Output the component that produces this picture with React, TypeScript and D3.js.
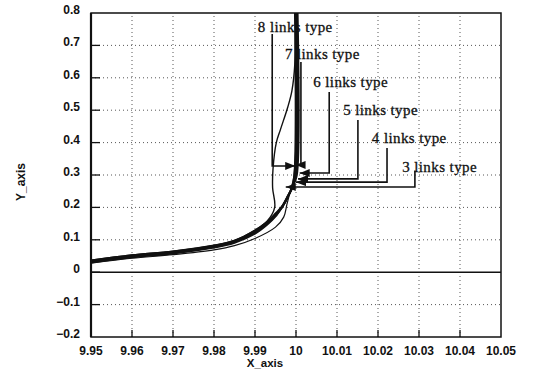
import * as d3 from 'd3'
import { useEffect, useRef } from 'react'

const xTicks = [9.95, 9.96, 9.97, 9.98, 9.99, 10, 10.01, 10.02, 10.03, 10.04, 10.05]
const yTicks = [-0.2, -0.1, 0, 0.1, 0.2, 0.3, 0.4, 0.5, 0.6, 0.7, 0.8]
const linkTypes = [8, 7, 6, 5, 4, 3]

// response curves
const curve3X = [9.95, 9.96, 9.97, 9.98, 9.985, 9.99, 9.995, 9.997, 9.9978, 9.9986, 9.9994, 10.0, 10.0002]
const curve3Y = [0.028, 0.043, 0.054, 0.069, 0.082, 0.104, 0.139, 0.17, 0.21, 0.25, 0.29, 0.4, 0.85]
const curve4X = [9.95, 9.96, 9.97, 9.98, 9.985, 9.99, 9.993, 9.995, 9.9965, 9.998, 9.999, 9.9996, 9.9997]
const curve4Y = [0.03, 0.046, 0.058, 0.076, 0.091, 0.119, 0.147, 0.172, 0.2, 0.235, 0.26, 0.3, 0.85]
const curve5X = [9.95, 9.96, 9.97, 9.98, 9.985, 9.99, 9.993, 9.995, 9.9966, 9.9981, 9.9991, 9.9998, 9.9999]
const curve5Y = [0.032, 0.048, 0.06, 0.078, 0.093, 0.122, 0.15, 0.175, 0.2, 0.236, 0.262, 0.3, 0.85]
const curve6X = [9.95, 9.96, 9.97, 9.98, 9.985, 9.99, 9.993, 9.995, 9.9967, 9.9982, 9.9992, 10.0, 10.0001]
const curve6Y = [0.034, 0.05, 0.062, 0.08, 0.095, 0.125, 0.153, 0.178, 0.203, 0.238, 0.265, 0.3, 0.85]
const curve7X = [9.95, 9.96, 9.97, 9.98, 9.985, 9.99, 9.993, 9.995, 9.9968, 9.9983, 9.9993, 10.0002, 10.0003]
const curve7Y = [0.036, 0.052, 0.064, 0.082, 0.097, 0.128, 0.156, 0.181, 0.206, 0.24, 0.268, 0.3, 0.85]
const curve8X = [9.95, 9.96, 9.97, 9.98, 9.985, 9.99, 9.993, 9.9948, 9.9943, 9.9944, 9.9952, 9.9962, 9.998, 9.999, 9.9997, 9.9999]
const curve8Y = [0.037, 0.053, 0.065, 0.083, 0.098, 0.13, 0.158, 0.2, 0.26, 0.32, 0.4, 0.44, 0.51, 0.56, 0.64, 0.85]

const curvesX = [curve8X, curve7X, curve6X, curve5X, curve4X, curve3X]
const curvesY = [curve8Y, curve7Y, curve6Y, curve5Y, curve4Y, curve3Y]
const curveWidth = [1.4, 2, 2, 2, 2, 1.2]

// label annotations (data coords)
const labelX = [9.9907, 9.9973, 10.0042, 10.0115, 10.0185, 10.0259]
const labelY = [0.741, 0.658, 0.572, 0.485, 0.399, 0.309]
const leaderX = [9.9942, 10.0012, 10.0081, 10.0151, 10.0222, 10.029]
const leaderTopY = [0.735, 0.649, 0.556, 0.47, 0.383, 0.314]
const leaderY = [0.328, 0.331, 0.306, 0.288, 0.278, 0.263]
const arrowX = [9.9998, 9.9999, 10.0009, 10.0005, 10.0, 9.9975]

export default function App() {
    const svgRef = useRef<SVGSVGElement>(null)
    const width = 534
    const height = 371

    useEffect(() => {
        if (!svgRef.current) return
        const svg = d3.select(svgRef.current)
        svg.selectAll('*').remove()

        const margin = { top: 13, right: 33, bottom: 34, left: 91 }
        const x = d3.scaleLinear().domain([9.95, 10.05]).range([margin.left, width - margin.right])
        const y = d3.scaleLinear().domain([-0.2, 0.8]).range([height - margin.bottom, margin.top])
        const [x0, x1] = x.range()
        const [y0, y1] = y.range()

        const defs = svg.append('defs')
        defs.append('clipPath')
            .attr('id', 'plot-clip')
            .append('rect')
            .attr('x', x0)
            .attr('y', y1)
            .attr('width', x1 - x0)
            .attr('height', y0 - y1)
        defs.append('marker')
            .attr('id', 'arrow')
            .attr('markerUnits', 'userSpaceOnUse')
            .attr('markerWidth', 10)
            .attr('markerHeight', 8)
            .attr('refX', 10)
            .attr('refY', 4)
            .attr('orient', 'auto')
            .append('path')
            .attr('d', 'M0,0 L10,4 L0,8 Z')
            .attr('fill', '#111')

        // dotted grid
        const grid = svg.append('g').attr('stroke', '#444').attr('stroke-width', 0.9).attr('stroke-dasharray', '1,3')
        xTicks.slice(1, -1).forEach((t) => {
            grid.append('line').attr('x1', x(t)).attr('x2', x(t)).attr('y1', y0).attr('y2', y1)
        })
        yTicks.slice(1, -1).forEach((t) => {
            if (t === 0) return
            grid.append('line').attr('x1', x0).attr('x2', x1).attr('y1', y(t)).attr('y2', y(t))
        })

        // zero line
        svg.append('line')
            .attr('x1', x0).attr('x2', x1)
            .attr('y1', y(0)).attr('y2', y(0))
            .attr('stroke', '#111').attr('stroke-width', 1.6)

        // inward ticks
        const ticks = svg.append('g').attr('stroke', '#111').attr('stroke-width', 1.3)
        xTicks.slice(1, -1).forEach((t) => {
            ticks.append('line').attr('x1', x(t)).attr('x2', x(t)).attr('y1', y0).attr('y2', y0 - 7)
        })
        yTicks.slice(1, -1).forEach((t) => {
            ticks.append('line').attr('x1', x0).attr('x2', x0 + 9).attr('y1', y(t)).attr('y2', y(t))
        })

        // curves
        const line = d3.line<[number, number]>()
            .x((d) => x(d[0]))
            .y((d) => y(d[1]))
            .curve(d3.curveCatmullRom.alpha(0.5))
        const curveG = svg.append('g').attr('clip-path', 'url(#plot-clip)')
        curvesX.forEach((xs, i) => {
            const pts = xs.map((v, j) => [v, curvesY[i][j]] as [number, number])
            curveG.append('path')
                .attr('d', line(pts))
                .attr('fill', 'none')
                .attr('stroke', '#111')
                .attr('stroke-width', curveWidth[i])
        })

        // frame
        svg.append('rect')
            .attr('x', x0).attr('y', y1)
            .attr('width', x1 - x0).attr('height', y0 - y1)
            .attr('fill', 'none').attr('stroke', '#111').attr('stroke-width', 1.5)
        svg.append('line')
            .attr('x1', x0).attr('x2', x0).attr('y1', y1).attr('y2', y0)
            .attr('stroke', '#111').attr('stroke-width', 2.2)

        // tick labels
        const font = "'Liberation Sans', Arial, sans-serif"
        xTicks.forEach((t) => {
            svg.append('text')
                .attr('x', x(t)).attr('y', y0 + 18)
                .attr('text-anchor', 'middle')
                .style('font-family', font).style('font-weight', 'bold').style('font-size', '12px')
                .attr('fill', '#111')
                .text(d3.format('~g')(t))
        })
        yTicks.forEach((t) => {
            svg.append('text')
                .attr('x', x0 - 11).attr('y', y(t) + 1)
                .attr('text-anchor', 'end')
                .style('font-family', font).style('font-weight', 'bold').style('font-size', '12px')
                .attr('fill', '#111')
                .text(d3.format('~g')(t))
        })
        svg.append('text')
            .attr('x', 265).attr('y', y0 + 30)
            .attr('text-anchor', 'middle')
            .style('font-family', font).style('font-weight', 'bold').style('font-size', '11.5px')
            .attr('fill', '#111')
            .text('X_axis')
        svg.append('text')
            .attr('transform', `translate(25, 182) rotate(-90)`)
            .attr('text-anchor', 'middle')
            .style('font-family', font).style('font-weight', 'bold').style('font-size', '12px')
            .attr('fill', '#111')
            .text('Y_axis')

        // link type annotations
        const ann = svg.append('g')
        linkTypes.forEach((n, i) => {
            ann.append('path')
                .attr('d', `M${x(leaderX[i])},${y(leaderTopY[i])} L${x(leaderX[i])},${y(leaderY[i])} L${x(arrowX[i])},${y(leaderY[i])}`)
                .attr('fill', 'none')
                .attr('stroke', '#111')
                .attr('stroke-width', 1.6)
                .attr('marker-end', 'url(#arrow)')
            ann.append('text')
                .attr('x', x(labelX[i]))
                .attr('y', y(labelY[i]))
                .style('font-family', "'Liberation Serif', 'Times New Roman', serif")
                .style('font-size', '15px')
                .style('letter-spacing', '0.4px')
                .attr('fill', '#111')
                .attr('stroke', '#111')
                .attr('stroke-width', 0.3)
                .text(`${n} links type`)
        })
    }, [])

    return (
        <svg
            ref={svgRef}
            width={width}
            height={height}
            style={{ position: 'absolute', left: 0, top: 0, background: '#fff' }}
        />
    )
}
